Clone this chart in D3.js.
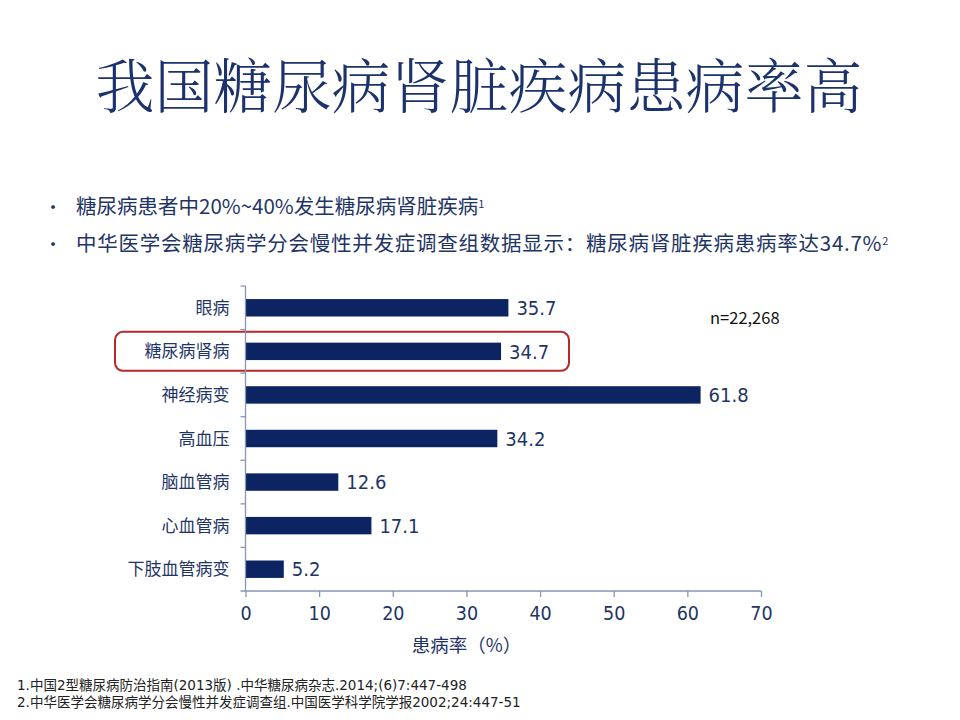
<!DOCTYPE html>
<html>
<head>
<meta charset="utf-8">
<script src="https://cdn.jsdelivr.net/npm/d3@7"></script>
<style>
  body { margin: 0; background: #fff; }
  svg { display: block; }
  .cjk { font-family: "Noto Sans CJK SC", "Noto Sans", sans-serif; }
  .num { font-family: "DejaVu Sans Condensed", "DejaVu Sans", sans-serif; font-stretch: condensed; }
</style>
</head>
<body>
<div id="chart"></div>
<script>
const categories = ['眼病', '糖尿病肾病', '神经病变', '高血压', '脑血管病', '心血管病', '下肢血管病变'];
const values = [35.7, 34.7, 61.8, 34.2, 12.6, 17.1, 5.2];
const xTicks = [0, 10, 20, 30, 40, 50, 60, 70];
const highlight = '糖尿病肾病';

const navy = '#0c2461';
const textNavy = '#1f3566';

const width = 960, height = 720;
const margin = ({top: 286, right: 199, bottom: 129, left: 245.5});

const svg = d3.select('#chart')
              .append('svg')
              .attr('width', width)
              .attr('height', height);

// title
svg.append('text')
    .attr('x', 479)
    .attr('y', 108)
    .attr('text-anchor', 'middle')
    .style('font-family', '"Noto Serif CJK SC", "Noto Sans CJK SC", serif')
    .style('font-weight', 300)
    .style('font-size', '59px')
    .attr('fill', '#1b326c')
    .text('我国糖尿病肾脏疾病患病率高');

// bullet points
const bullets = [
    {text: '糖尿病患者中20%~40%发生糖尿病肾脏疾病', sup: '1', spacing: 0},
    {text: '中华医学会糖尿病学分会慢性并发症调查组数据显示：糖尿病肾脏疾病患病率达34.7%', sup: '2', spacing: 0.75}
];
bullets.forEach((b, i) => {
    const yy = 214 + i * 37;
    svg.append('text')
        .attr('x', 44).attr('y', yy)
        .attr('class', 'cjk')
        .style('font-size', '18px')
        .attr('fill', textNavy)
        .text('•');
    const t = svg.append('text')
        .attr('x', 76).attr('y', yy)
        .attr('class', 'cjk')
        .style('font-size', '20.5px')
        .style('letter-spacing', b.spacing + 'px')
        .attr('fill', textNavy)
        .text(b.text);
    t.append('tspan')
        .attr('dy', -6)
        .style('font-size', '11px')
        .text(b.sup);
});

const g = svg.append('g');

const xScale = d3.scaleLinear()
                .domain([0, 70])
                .range([margin.left, width - margin.right]);

const yScale = d3.scaleBand()
                .domain(categories)
                .range([margin.top, height - margin.bottom])
                .paddingInner(0.6)
                .paddingOuter(0.3);

// highlight box
const hy = yScale(highlight) + yScale.bandwidth() / 2;
g.append('rect')
    .attr('x', 115)
    .attr('y', hy - 19.5)
    .attr('width', 454)
    .attr('height', 39)
    .attr('rx', 8)
    .attr('fill', 'none')
    .attr('stroke', '#b5282c')
    .attr('stroke-width', 2);

// bars
g.selectAll('.bar')
    .data(categories)
    .enter()
    .append('rect')
    .attr('class', 'bar')
    .attr('x', xScale(0))
    .attr('y', d => yScale(d))
    .attr('width', (d, i) => xScale(values[i]) - xScale(0))
    .attr('height', yScale.bandwidth())
    .attr('fill', navy);

// value labels
g.selectAll('.val')
    .data(categories)
    .enter()
    .append('text')
    .attr('class', 'val num')
    .attr('x', (d, i) => xScale(values[i]) + 8)
    .attr('y', d => yScale(d) + yScale.bandwidth() / 2)
    .attr('dy', '0.36em')
    .style('font-size', '20px')
    .attr('fill', textNavy)
    .text((d, i) => values[i].toFixed(1));

// category labels
g.selectAll('.cat')
    .data(categories)
    .enter()
    .append('text')
    .attr('class', 'cat cjk')
    .attr('x', margin.left - 16)
    .attr('y', d => yScale(d) + yScale.bandwidth() / 2)
    .attr('dy', '0.36em')
    .attr('text-anchor', 'end')
    .style('font-size', '17px')
    .attr('fill', textNavy)
    .text(d => d);

const axisColor = '#8796b4';

// y axis line + ticks at band boundaries
const y0 = yScale.range()[0];
g.append('line')
    .attr('x1', margin.left).attr('x2', margin.left)
    .attr('y1', y0).attr('y2', height - margin.bottom)
    .attr('stroke', axisColor).attr('stroke-width', 1.3);
g.selectAll('.ytick')
    .data(d3.range(categories.length))
    .enter()
    .append('line')
    .attr('x1', margin.left - 5).attr('x2', margin.left)
    .attr('y1', i => y0 + i * yScale.step())
    .attr('y2', i => y0 + i * yScale.step())
    .attr('stroke', axisColor).attr('stroke-width', 1.3);

// x axis
const xAxis = d3.axisBottom()
                .scale(xScale)
                .tickValues(xTicks)
                .tickSize(6)
                .tickSizeOuter(0)
                .tickPadding(9);

const xg = g.append('g')
    .attr('class', 'axis x-axis')
    .attr('transform', `translate(0, ${height - margin.bottom})`)
    .call(xAxis);
xg.select('.domain')
    .attr('d', `M${margin.left - 5},0H${width - margin.right}`)
    .attr('stroke', axisColor).attr('stroke-width', 1.5);
xg.selectAll('.tick line').attr('stroke', axisColor).attr('stroke-width', 1.3);
xg.selectAll('.tick text')
    .attr('class', 'num')
    .style('font-size', '19.5px')
    .attr('fill', textNavy);

g.append('text')
    .attr('x', xScale(30))
    .attr('y', 652)
    .attr('text-anchor', 'middle')
    .attr('class', 'cjk')
    .style('font-size', '18.5px')
    .attr('fill', textNavy)
    .text('患病率（%）');

// sample size
svg.append('text')
    .attr('x', 710)
    .attr('y', 324)
    .attr('class', 'cjk')
    .style('font-size', '16.5px')
    .attr('fill', '#111')
    .text('n=22,268');

// references
const refs = [
    '1.中国2型糖尿病防治指南(2013版) .中华糖尿病杂志.2014;(6)7:447-498',
    '2.中华医学会糖尿病学分会慢性并发症调查组.中国医学科学院学报2002;24:447-51'
];
svg.selectAll('.ref')
    .data(refs)
    .enter()
    .append('text')
    .attr('class', 'ref')
    .attr('x', 17)
    .attr('y', (d, i) => 690 + i * 17)
    .style('font-family', '"DejaVu Sans", "Noto Sans CJK SC", sans-serif')
    .style('font-size', '13.5px')
    .attr('fill', '#222')
    .text(d => d);
</script>
</body>
</html>
